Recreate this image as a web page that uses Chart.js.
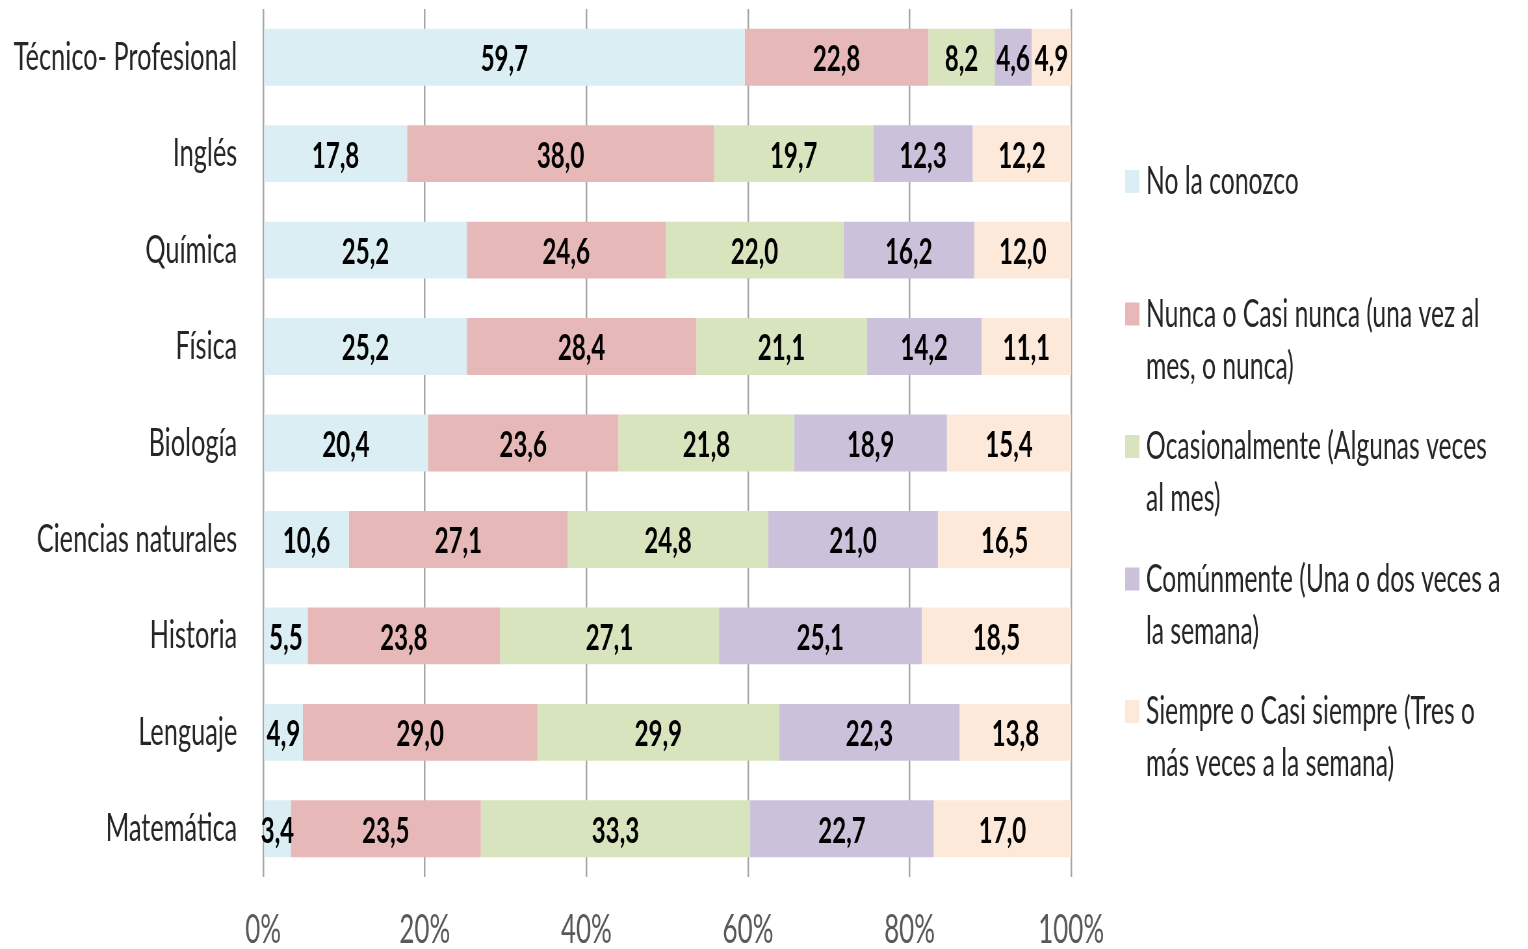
<!DOCTYPE html>
<html>
<head>
<meta charset="utf-8">
<script src="https://cdn.jsdelivr.net/npm/chart.js@4"></script>
<style>
  html, body { margin: 0; padding: 0; background: #fff; overflow: hidden; }
  /* the source image is horizontally squeezed, so draw wide and squeeze */
  #wrap { width: 2351px; height: 949px; transform: scaleX(0.65); transform-origin: 0 0; }
</style>
</head>
<body>
<div id="wrap"><canvas id="myChart" width="2351" height="949"></canvas></div>
<script>
const categories = ["Técnico- Profesional", "Inglés", "Química", "Física", "Biología",
  "Ciencias naturales", "Historia", "Lenguaje", "Matemática"];

const noLaConozco = [59.7, 17.8, 25.2, 25.2, 20.4, 10.6, 5.5, 4.9, 3.4];
const nuncaCasiNunca = [22.8, 38.0, 24.6, 28.4, 23.6, 27.1, 23.8, 29.0, 23.5];
const ocasionalmente = [8.2, 19.7, 22.0, 21.1, 21.8, 24.8, 27.1, 29.9, 33.3];
const comunmente = [4.6, 12.3, 16.2, 14.2, 18.9, 21.0, 25.1, 22.3, 22.7];
const siempre = [4.9, 12.2, 12.0, 11.1, 15.4, 16.5, 18.5, 13.8, 17.0];

const seriesLabels = [
  ["No la conozco"],
  ["Nunca o Casi nunca (una vez al", "mes, o nunca)"],
  ["Ocasionalmente (Algunas veces", "al mes)"],
  ["Comúnmente (Una o dos veces a", "la semana)"],
  ["Siempre o Casi siempre (Tres o", "más veces a la semana)"]
];
const seriesValues = [noLaConozco, nuncaCasiNunca, ocasionalmente, comunmente, siempre];
const seriesColors = ["#dbeef4", "#e6b9b8", "#d7e4bd", "#ccc1da", "#fde9d9"];

const FONT = "Lato, 'Liberation Sans', sans-serif";

// 100% stacked: each row is scaled to its own total
const totals = categories.map((c, i) => seriesValues.reduce((s, arr) => s + arr[i], 0));

const datasets = seriesValues.map((vals, k) => ({
  label: seriesLabels[k].join(" "),
  data: vals.map((v, i) => v / totals[i] * 100),
  raw: vals,
  backgroundColor: seriesColors[k],
  borderWidth: 0,
  barPercentage: 0.59,
  categoryPercentage: 1
}));

const valueLabels = {
  id: "valueLabels",
  afterDatasetsDraw(chart) {
    const ctx = chart.ctx;
    ctx.save();
    ctx.font = "bold 37px " + FONT;
    ctx.fillStyle = "#000";
    ctx.textAlign = "center";
    ctx.textBaseline = "middle";
    chart.data.datasets.forEach((ds, k) => {
      chart.getDatasetMeta(k).data.forEach((bar, i) => {
        const txt = ds.raw[i].toFixed(1).replace(".", ",");
        ctx.fillText(txt, (bar.x + bar.base) / 2, bar.y + 2);
      });
    });
    ctx.restore();
  }
};

const sideLegend = {
  id: "sideLegend",
  afterDraw(chart) {
    const ctx = chart.ctx;
    ctx.save();
    ctx.font = "38px " + FONT;
    ctx.textBaseline = "middle";
    ctx.textAlign = "left";
    seriesLabels.forEach((lines, k) => {
      const y = 182 + k * 132.5;
      ctx.fillStyle = seriesColors[k];
      ctx.fillRect(1731, y - 12, 22, 23);
      ctx.fillStyle = "#262626";
      lines.forEach((line, j) => ctx.fillText(line, 1763, y + j * 52));
    });
    ctx.restore();
  }
};

new Chart(document.getElementById("myChart"), {
  type: "bar",
  data: { labels: categories, datasets: datasets },
  plugins: [valueLabels, sideLegend],
  options: {
    indexAxis: "y",
    responsive: false,
    animation: false,
    layout: { padding: { top: 9, right: 703, bottom: 0, left: 0 } },
    plugins: { legend: { display: false }, tooltip: { enabled: false } },
    scales: {
      x: {
        stacked: true,
        min: 0,
        max: 100,
        ticks: {
          stepSize: 20,
          callback: (v) => v + "%",
          font: { family: FONT, size: 40 },
          color: "#595959",
          padding: 29
        },
        grid: { color: "#a6a6a6", lineWidth: 2.5, drawTicks: false },
        border: { display: false },
        afterFit: (s) => { s.height = 72; }
      },
      y: {
        stacked: true,
        ticks: { font: { family: FONT, size: 39 }, color: "#262626", padding: 40 },
        grid: { display: false, drawTicks: false },
        border: { display: false },
        afterFit: (s) => { s.width = 405; s.paddingTop = 0; s.paddingBottom = 0; }
      }
    }
  }
});
</script>
</body>
</html>
